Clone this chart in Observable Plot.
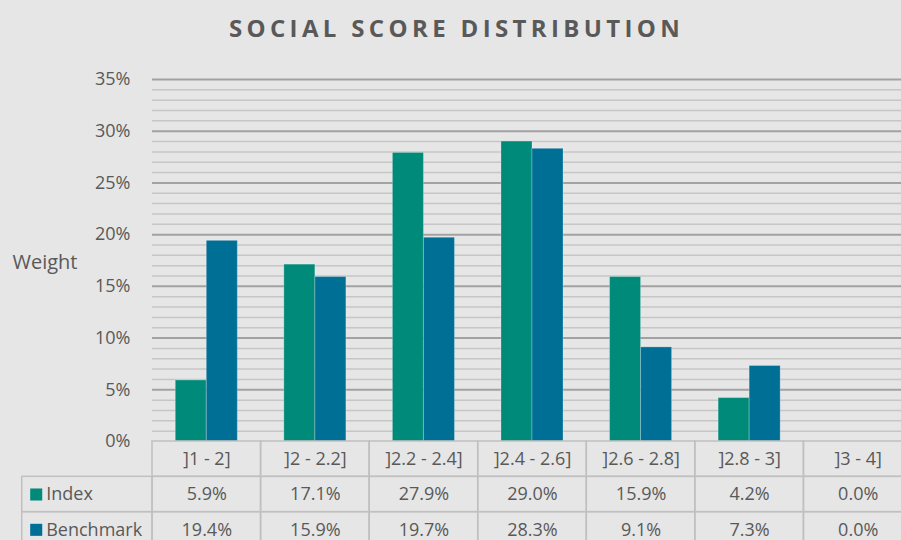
<!DOCTYPE html>
<html>
<head>
<meta charset="utf-8">
<script src="https://cdn.jsdelivr.net/npm/d3@7"></script>
<script src="https://cdn.jsdelivr.net/npm/@observablehq/plot@0.6"></script>
<style>
  html, body { margin: 0; padding: 0; background: #e6e6e6; }
  #wrap { position: relative; width: 901px; height: 540px; overflow: hidden; background: #e6e6e6; font-family: "Open Sans", sans-serif; }
  #title { position: absolute; left: 6px; top: 16px; width: 901px; text-align: center; font-size: 24px; line-height: 24px; font-weight: 700; letter-spacing: 4.35px; color: #595959; }
  .layer { position: absolute; left: 0; }
  .layer svg { overflow: visible; }
</style>
</head>
<body>
<div id="wrap">
  <div id="title">SOCIAL SCORE DISTRIBUTION</div>
  <div id="grid" class="layer" style="top:60px"></div>
  <div id="bars" class="layer" style="top:60px"></div>
  <div id="table" class="layer" style="top:438px"></div>
</div>
<script>
// ---- data ----
const categories = ["]1 - 2]", "]2 - 2.2]", "]2.2 - 2.4]", "]2.4 - 2.6]", "]2.6 - 2.8]", "]2.8 - 3]", "]3 - 4]"];
const series = ["Index", "Benchmark"];
const indexValues = [5.9, 17.1, 27.9, 29.0, 15.9, 4.2, 0.0];
const benchmarkValues = [19.4, 15.9, 19.7, 28.3, 9.1, 7.3, 0.0];
const seriesColors = ["#008A7A", "#006F96"];
const yTicks = [0, 5, 10, 15, 20, 25, 30, 35];
const yAxisLabel = "Weight";

const textColor = "#595959";
const font = "'Open Sans', sans-serif";

const valuesBySeries = { Index: indexValues, Benchmark: benchmarkValues };
const data = categories.flatMap((c, i) => series.map(s => ({ cat: c, series: s, value: valuesBySeries[s][i] })));

const frame = { width: 901, height: 383, marginTop: 19, marginBottom: 2, marginLeft: 152, marginRight: -11 };
const yScale = { domain: [0, 35], ticks: yTicks, tickFormat: d => d + "%", tickSize: 0, tickPadding: 22, label: null };

// minor/major gridlines derived from y scale ticks
const minorTicks = d3.range(yTicks[0], yTicks[yTicks.length - 1] + 1).filter(v => v % 5 !== 0);
const majorTicks = yTicks.filter(v => v > 0);

const gridPlot = Plot.plot({
  ...frame,
  style: { background: "transparent", fontFamily: font, fontSize: "18px", color: textColor },
  y: yScale,
  marks: [
    Plot.ruleY(minorTicks, { stroke: "#c6c6c6", strokeWidth: 1.5 }),
    Plot.ruleY(majorTicks, { stroke: "#a2a2a2", strokeWidth: 2 }),
    Plot.text([yAxisLabel], { frameAnchor: "left", dx: -140, dy: 2, textAnchor: "start", fontSize: 20, fill: textColor })
  ]
});
document.getElementById("grid").appendChild(gridPlot);

const barPlot = Plot.plot({
  ...frame,
  style: { background: "transparent", fontFamily: font, fontSize: "18px", color: textColor },
  fx: { domain: categories, padding: 0, round: false, axis: null, label: null },
  x: { domain: series, paddingInner: 0, paddingOuter: 0.75, round: false, axis: null },
  y: { domain: [0, 35], axis: null },
  color: { domain: series, range: seriesColors },
  marks: [
    Plot.barY(data, { fx: "cat", x: "series", y: "value", fill: "series", stroke: "#ffffff", strokeOpacity: 0.25, strokeWidth: 1 })
  ]
});
document.getElementById("bars").appendChild(barPlot);

// ---- data table ----
const labelColWidth = 1.2; // in column units
const cells = [];
categories.forEach((c, i) => {
  for (let r = 0; r < 3; r++) cells.push({ x1: i, x2: i + 1, y1: r, y2: r + 1 });
});
series.forEach((s, k) => cells.push({ x1: -labelColWidth, x2: 0, y1: k + 1, y2: k + 2 }));

const headerTexts = categories.map((c, i) => ({ text: c, col: i + 0.5, row: 0.5 }));
const valueTexts = data.map(d => ({
  text: d3.format(".1f")(d.value) + "%",
  col: categories.indexOf(d.cat) + 0.5,
  row: series.indexOf(d.series) + 1.5
}));
const rowLabels = series.map((s, k) => ({ text: s, series: s, col: -labelColWidth, row: k + 1.5 }));

const tablePlot = Plot.plot({
  width: 901, height: 102, marginTop: 0, marginBottom: 0, marginLeft: 0, marginRight: 0,
  style: { background: "transparent", fontFamily: font, fontSize: "18px", color: textColor },
  x: { domain: [0, categories.length], range: [152, 912], axis: null },
  y: { domain: [0, 3], range: [3, 109], axis: null },
  color: { domain: series, range: seriesColors },
  marks: [
    Plot.rect(cells, { x1: "x1", x2: "x2", y1: "y1", y2: "y2", fill: "none", stroke: "#c0c0c0", strokeWidth: 1.5 }),
    Plot.text(headerTexts, { x: "col", y: "row", text: "text", fill: textColor, fontSize: 18 }),
    Plot.text(valueTexts, { x: "col", y: "row", text: "text", fill: textColor, fontSize: 18 }),
    Plot.dot(rowLabels, { x: "col", y: "row", dx: 14, symbol: "square", r: 6.8, fill: "series", stroke: null }),
    Plot.text(rowLabels, { x: "col", y: "row", dx: 24, text: "text", textAnchor: "start", fill: textColor, fontSize: 18 })
  ]
});
document.getElementById("table").appendChild(tablePlot);
</script>
</body>
</html>
